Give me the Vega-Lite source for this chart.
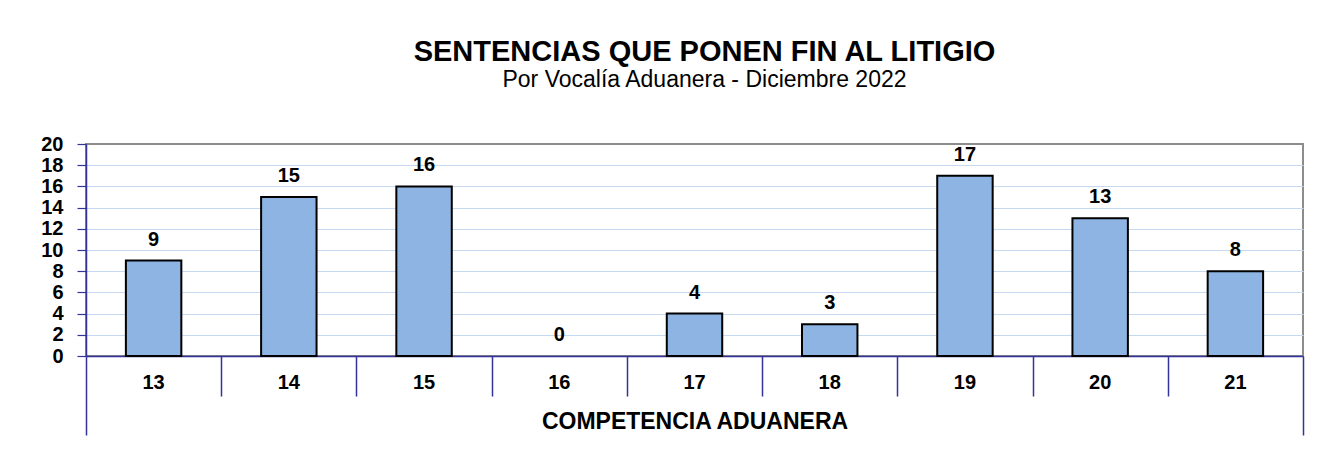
{
  "$schema": "https://vega.github.io/schema/vega-lite/v6.json",
  "width": 1217,
  "height": 212,
  "autosize": {"type": "none"},
  "padding": {"left": 86, "top": 144, "right": 17, "bottom": 117},
  "background": "white",
  "title": {
    "text": "SENTENCIAS QUE PONEN FIN AL LITIGIO",
    "subtitle": "Por Vocalía Aduanera - Diciembre 2022",
    "anchor": "middle",
    "frame": "group",
    "dx": 10,
    "offset": 42,
    "fontSize": 29,
    "fontWeight": "bold",
    "color": "black",
    "subtitleFontSize": 23,
    "subtitleColor": "black",
    "subtitlePadding": 2
  },
  "data": {
    "values": [
      {"c": "13", "v": 9},
      {"c": "14", "v": 15},
      {"c": "15", "v": 16},
      {"c": "16", "v": 0},
      {"c": "17", "v": 4},
      {"c": "18", "v": 3},
      {"c": "19", "v": 17},
      {"c": "20", "v": 13},
      {"c": "21", "v": 8}
    ]
  },
  "encoding": {
    "y": {
      "field": "v",
      "type": "quantitative",
      "scale": {"domain": [0, 20], "nice": false},
      "axis": {
        "values": [0, 2, 4, 6, 8, 10, 12, 14, 16, 18, 20],
        "title": null,
        "grid": true,
        "gridColor": {"condition": {"test": "datum.value === 20", "value": "transparent"}, "value": "#C6D9F1"},
        "gridWidth": 1.2,
        "domainColor": "#333399",
        "domainWidth": 1.5,
        "tickColor": "#333399",
        "tickWidth": 1.2,
        "tickSize": 9,
        "labelPadding": 14,
        "labelFontSize": 20,
        "labelFontWeight": "bold",
        "labelColor": "black",
        "labelOverlap": false,
        "labelBaseline": "middle"
      }
    }
  },
  "layer": [
    {
      "mark": {"type": "bar", "fill": "#8DB4E2", "stroke": "#000000", "strokeWidth": 2},
      "encoding": {
        "x": {
          "field": "c",
          "type": "nominal",
          "sort": null,
          "scale": {"paddingInner": 0.59, "paddingOuter": 0.295},
          "axis": {
            "orient": "bottom",
            "title": "COMPETENCIA ADUANERA",
            "labelAngle": 0,
            "ticks": false,
            "domainColor": "#333399",
            "domainWidth": 1.5,
            "labelFontSize": 20,
            "labelFontWeight": "bold",
            "labelColor": "black",
            "labelPadding": 16,
            "titleFontSize": 23,
            "titleFontWeight": "bold",
            "titleColor": "black",
            "titlePadding": 18
          }
        },
        "strokeOpacity": {"condition": {"test": "datum.v === 0", "value": 0}, "value": 1}
      }
    },
    {
      "mark": {"type": "text", "dy": -15, "baseline": "alphabetic", "fontSize": 20, "fontWeight": "bold", "color": "black"},
      "encoding": {
        "x": {
          "field": "c",
          "type": "nominal",
          "sort": null,
          "scale": {"paddingInner": 0, "paddingOuter": 0},
          "axis": {
            "orient": "bottom",
            "labels": false,
            "title": null,
            "domain": false,
            "tickBand": "extent",
            "tickSize": {"condition": {"test": "datum.index === 1 || datum.index < 0", "value": 79}, "value": 40},
            "tickColor": "#333399",
            "tickWidth": 1.5
          }
        },
        "text": {"field": "v", "type": "quantitative"}
      }
    }
  ],
  "resolve": {"scale": {"x": "independent"}, "axis": {"x": "independent"}},
  "config": {
    "font": "Liberation Sans",
    "view": {"stroke": "#8C8C8C", "strokeWidth": 2}
  }
}
